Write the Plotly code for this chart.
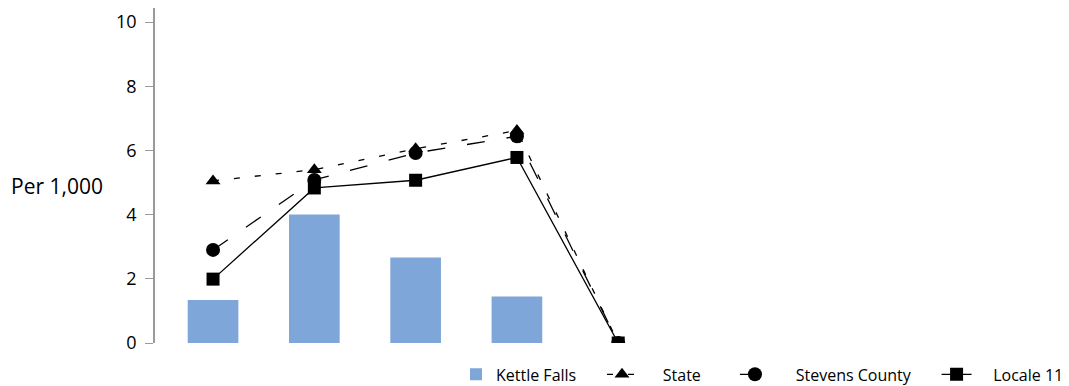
import plotly.graph_objects as go

categories = [0, 1, 2, 3, 4]
kettle_falls = [1.34, 4.0, 2.66, 1.45, 0.0]
state = [5.05, 5.4, 6.05, 6.62, 0.0]
stevens_county = [2.9, 5.08, 5.92, 6.44, 0.0]
locale_11 = [1.99, 4.83, 5.07, 5.78, 0.0]

# page body has an 8px margin; figure sized/offset to fit the 1069x386 window
W, H = 1061, 378
ML, MR, MT, MB = 147, 8, 0, 43
pw = W - ML - MR
ph = H - MT - MB

NB = "\u00a0"

fig = go.Figure()
fig.add_trace(go.Bar(x=categories, y=kettle_falls, name="Kettle Falls" + NB * 5,
                     marker=dict(color="#7EA6D8", line=dict(width=0)), width=0.5))
fig.add_trace(go.Scatter(x=categories, y=state, name=NB * 5 + "State" + NB * 7, mode="lines+markers",
                         line=dict(color="black", width=1.3, dash="6px,15px"),
                         marker=dict(symbol="triangle-up", size=13, color="black")))
fig.add_trace(go.Scatter(x=categories, y=stevens_county, name=NB * 5 + "Stevens County" + NB * 5,
                         mode="lines+markers",
                         line=dict(color="black", width=1.3, dash="18px,22px"),
                         marker=dict(symbol="circle", size=14, color="black")))
fig.add_trace(go.Scatter(x=categories, y=locale_11, name=NB * 4 + "Locale 11", mode="lines+markers",
                         line=dict(color="black", width=1.3),
                         marker=dict(symbol="square", size=13, color="black")))

fig.update_layout(
    width=W, height=H,
    margin=dict(l=ML, r=MR, t=MT, b=MB, autoexpand=False),
    plot_bgcolor="white", paper_bgcolor="white",
    font=dict(family="Open Sans, Noto Sans, sans-serif", color="black"),
    showlegend=True,
    legend=dict(orientation="h", x=(pw + MR) / pw, xanchor="right", y=-0.043, yanchor="top",
                font=dict(size=16), traceorder="normal", bgcolor="rgba(0,0,0,0)"),
    xaxis=dict(range=[-0.573, (1061 - 213) / 101.3], showticklabels=False, showgrid=False,
               zeroline=False, showline=False, ticks="", automargin=False),
    yaxis=dict(range=[0, 10.436], tickvals=[0, 2, 4, 6, 8, 10], showgrid=False, zeroline=False,
               showline=True, linecolor="#9a9a9a", linewidth=1.5, ticks="outside",
               ticklen=8, tickcolor="#9a9a9a", tickfont=dict(size=18), ticklabelstandoff=5,
               automargin=False),
    annotations=[dict(text="Per 1,000", xref="paper", yref="paper",
                      x=-(ML - 1) / pw, xanchor="left", y=157 / ph,
                      yanchor="middle", showarrow=False, font=dict(size=21))],
)

fig.write_html("out.html")
